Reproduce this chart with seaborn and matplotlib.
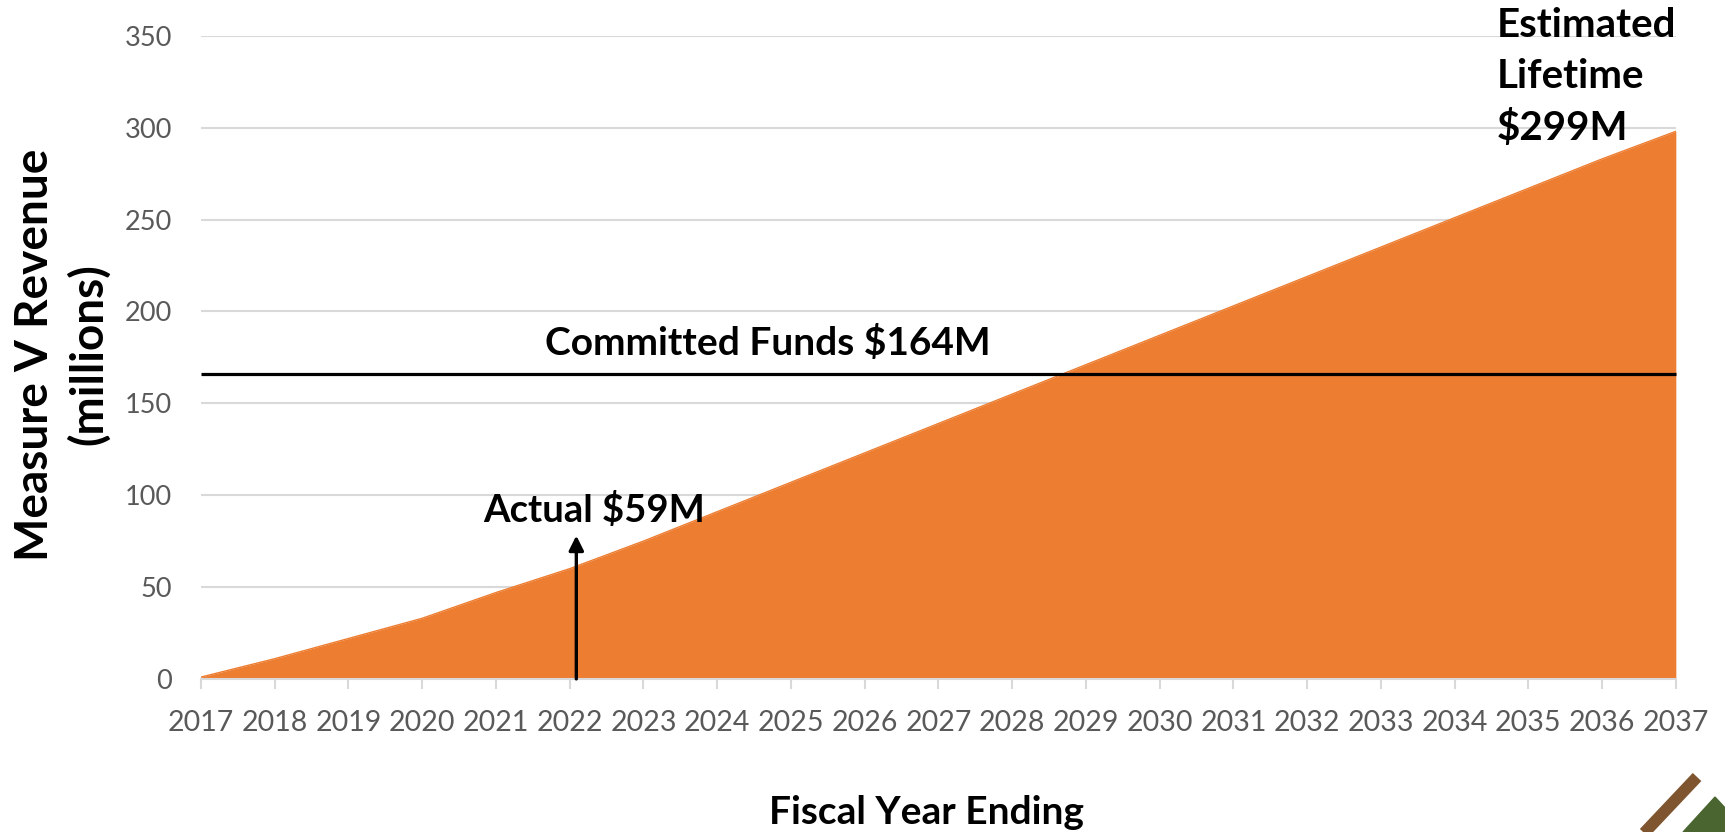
import numpy as np
import pandas as pd
import seaborn as sns
import matplotlib
import matplotlib.pyplot as plt
from matplotlib.lines import Line2D
from matplotlib.patches import Polygon

sns.set_theme(style="white")
plt.rcParams['font.family'] = ['Lato', 'DejaVu Sans']

# values (millions)
years = [2017, 2018, 2019, 2020, 2021, 2022, 2023, 2024, 2025, 2026, 2027,
         2028, 2029, 2030, 2031, 2032, 2033, 2034, 2035, 2036, 2037]
revenue = [1, 11, 22, 33, 47, 60, 75, 91, 107, 123, 139,
           155, 171, 187, 203, 219, 235, 251, 267, 283, 298]
committed = 166
actual_year = 2022.09
actual_tip = 78

orange = '#ED7D31'
grey_txt = '#595959'
grid_col = '#D9D9D9'

df = pd.DataFrame({'year': years, 'revenue': revenue})

fig = plt.figure(figsize=(17.25, 8.32), dpi=100)
ax = fig.add_axes([0.1165, 0.184, 0.855, 0.773])

ax.fill_between(df.year, 0, df.revenue, color=orange, lw=0, zorder=2)
sns.lineplot(data=df, x='year', y='revenue', color=orange, lw=1, ax=ax, zorder=2)

ax.set_xlim(2017, 2037)
ax.set_ylim(0, 350)
ax.set_xticks(years)
ax.set_yticks(np.arange(0, 351, 50))
ax.tick_params(axis='x', colors=grid_col, labelcolor=grey_txt, labelsize=20.5,
               length=7.5, width=1.5, direction='out', bottom=True, pad=15)
ax.tick_params(axis='y', labelcolor=grey_txt, labelsize=19.5, length=0, pad=21)
ax.yaxis.grid(True, color=grid_col, lw=1.5, zorder=0)
ax.set_axisbelow(True)
for s in ['top', 'right', 'left']:
    ax.spines[s].set_visible(False)
ax.spines['bottom'].set_color(grid_col)
ax.spines['bottom'].set_linewidth(1.5)
ax.spines['bottom'].set_zorder(3)
ax.set_xlabel('')
ax.set_ylabel('')

# committed funds line
ax.hlines(committed, 2017, 2037, color='black', lw=2.3, zorder=4, clip_on=False)
ax.text(2024.68, 183, 'Committed Funds $164M', ha='center', va='center',
        fontsize=28, fontweight='bold', color='black')

# actual arrow
ax.annotate('', xy=(actual_year, actual_tip), xytext=(actual_year, 0),
            arrowprops=dict(arrowstyle='-|>', lw=2.4, color='black',
                            mutation_scale=22, shrinkA=0, shrinkB=0), zorder=5)
ax.text(2022.33, 92, 'Actual $59M', ha='center', va='center',
        fontsize=27.5, fontweight='bold', color='black')

ax.text(2034.57, 327.5, 'Estimated\nLifetime\n$299M', ha='left', va='center',
        fontsize=29, fontweight='bold', color='black', linespacing=1.45,
        clip_on=False, zorder=6)

fig.text(0.036, 0.574, 'Measure V Revenue\n(millions)', rotation=90,
         ha='center', va='center', multialignment='center',
         fontsize=33, fontweight='bold', color='black', linespacing=1.28)
fig.text(0.537, 0.024, 'Fiscal Year Ending', ha='center', va='center',
         fontsize=28, fontweight='bold', color='black')

# corner logo
fig.add_artist(Line2D([0.9838, 0.940], [0.0661, -0.03], color='#7F5530',
                      lw=8.5, solid_capstyle='butt', transform=fig.transFigure))
fig.add_artist(Polygon([[0.9942, 0.042], [0.9757, 0.0], [1.013, 0.0]],
                       closed=True, color='#4A6530', transform=fig.transFigure))

fig.savefig('out.png', dpi=100)
